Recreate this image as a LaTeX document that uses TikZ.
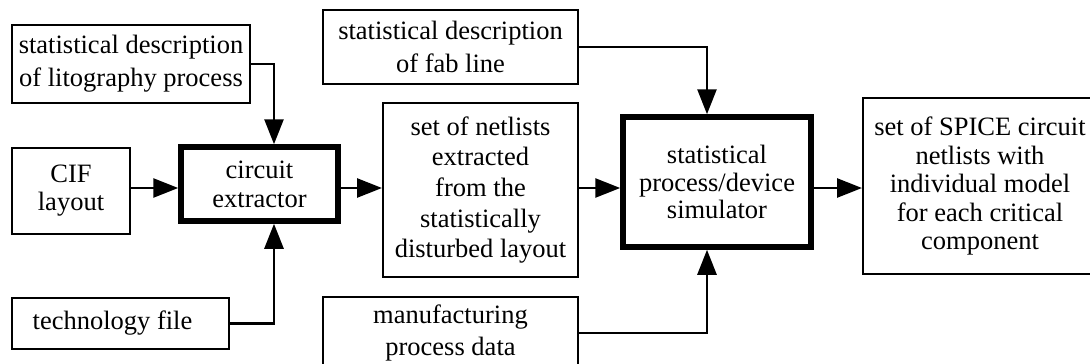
\documentclass[tikz,border=0pt]{standalone}
\usepackage{fontspec}
\setmainfont{Liberation Serif}
\usetikzlibrary{arrows.meta}
\tikzset{
  box/.style={draw, line width=2pt, inner sep=0pt, align=center,
    font=\fontsize{26.5}{30}\selectfont},
  mainbox/.style={box, line width=5.5pt},
  flow/.style={line width=2.6pt, -{Triangle[length=25pt,width=19pt]}}
}
\begin{document}
\begin{tikzpicture}[x=1pt,y=-1pt]
  \clip (0,0) rectangle (1090,364);
  % input descriptions
  \node[box, minimum width=238pt, minimum height=78pt,
        font=\fontsize{26.5}{33}\selectfont] (lito) at (131,64)
    {statistical description\\of litography process};
  \node[box, minimum width=118pt, minimum height=86pt,
        font=\fontsize{26.5}{28}\selectfont] (cif) at (71,191)
    {CIF\\layout};
  \node[box, minimum width=217pt, minimum height=51pt] (tech) at (120.5,323.5)
    {technology file\hspace{16pt}};
  % extraction stage
  \node[mainbox, minimum width=157pt, minimum height=74pt,
        font=\fontsize{26.5}{29}\selectfont] (extr) at (259.5,184)
    {circuit\\extractor\hspace{18pt}};
  \node[box, minimum width=195pt, minimum height=174pt,
        font=\fontsize{26.5}{30.6}\selectfont] (nets) at (480.5,190)
    {set of netlists\\extracted\\from the\\statistically\\disturbed layout};
  % process data
  \node[box, minimum width=255pt, minimum height=74pt,
        font=\fontsize{26.5}{33}\selectfont] (fab) at (450.5,47)
    {statistical description\\of fab line};
  \node[box, minimum width=255pt, minimum height=72pt,
        font=\fontsize{26.5}{32}\selectfont] (manu) at (450.5,333)
    {manufacturing\\process data};
  % simulation stage
  \node[mainbox, minimum width=188pt, minimum height=130pt,
        font=\fontsize{26.5}{27.5}\selectfont] (sim) at (717,182)
    {statistical\\process/device\\simulator};
  \node[box, minimum width=234pt, minimum height=176pt,
        font=\fontsize{26.5}{28.5}\selectfont] (spice) at (980,186)
    {set of SPICE circuit\\netlists with\\individual model\\for each critical\\component};
  % connector lanes
  \coordinate (row) at (0,188);
  \coordinate (ecol) at (274,0);
  \coordinate (scol) at (707,0);
  \draw[flow] (lito.east) -| (ecol |- extr.north);
  \draw[flow] (tech.east) -| (ecol |- extr.south);
  \draw[flow] (cif.east |- row) -- (extr.west |- row);
  \draw[flow] (extr.east |- row) -- (nets.west |- row);
  \draw[flow] (nets.east |- row) -- (sim.west |- row);
  \draw[flow] (fab.east) -| (scol |- sim.north);
  \draw[flow] (manu.east) -| (scol |- sim.south);
  \draw[flow] (sim.east |- row) -- (spice.west |- row);
\end{tikzpicture}
\end{document}
